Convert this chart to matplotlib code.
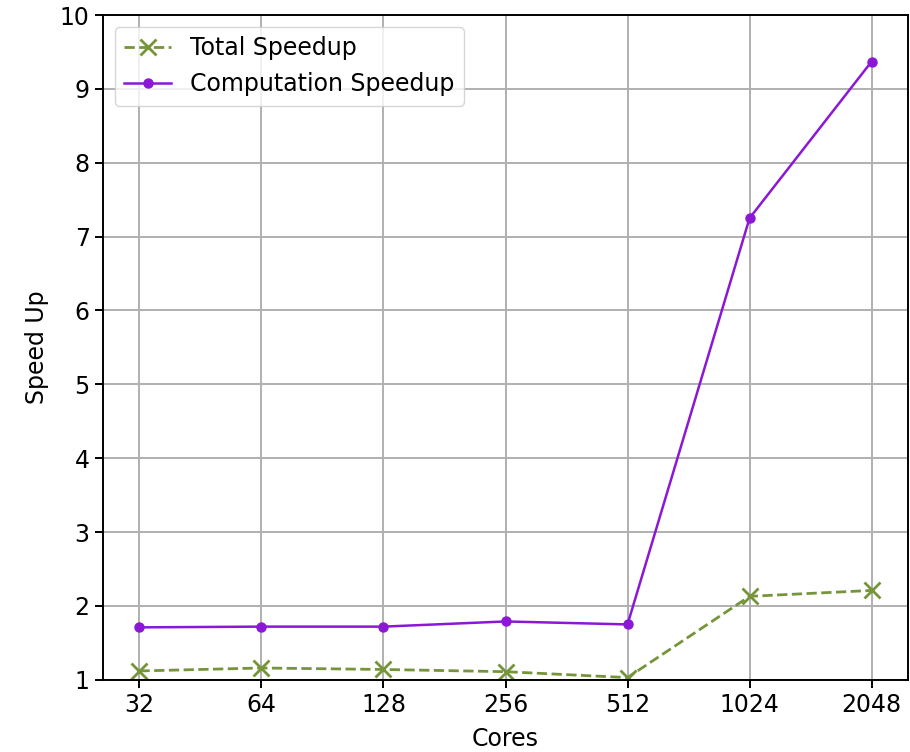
import numpy as np
import matplotlib
matplotlib.use("Agg")
import matplotlib.pyplot as plt

cores = ["32", "64", "128", "256", "512", "1024", "2048"]
total_speedup = [1.12, 1.16, 1.14, 1.11, 1.03, 2.13, 2.21]
comp_speedup = [1.71, 1.72, 1.72, 1.79, 1.75, 7.25, 9.37]

plt.rcParams['font.size'] = 17
plt.rcParams['axes.linewidth'] = 1.4
plt.rcParams['xtick.major.width'] = 1.4
plt.rcParams['ytick.major.width'] = 1.4
plt.rcParams['xtick.major.size'] = 6
plt.rcParams['ytick.major.size'] = 6

fig = plt.figure(figsize=(9.1, 7.52), dpi=100)
ax = fig.add_axes([0.113, 0.096, 0.885, 0.884])

x = np.arange(len(cores))
ax.plot(x, total_speedup, linestyle='--', marker='x', color='#76953a',
        markersize=11, markeredgewidth=2, linewidth=2, label='Total Speedup')
ax.plot(x, comp_speedup, linestyle='-', marker='o', color='#8a18d6',
        markersize=6.5, linewidth=1.8, label='Computation Speedup')

ax.set_xticks(x)
ax.set_xticklabels(cores)
ax.set_ylim(1, 10)
ax.set_yticks(range(1, 11))
ax.set_xlabel('Cores', labelpad=7)
ax.set_ylabel('Speed Up', labelpad=8)
ax.grid(True, color='#b0b0b0', linewidth=1.4)
ax.legend(loc='upper left')

fig.savefig('out.png')
